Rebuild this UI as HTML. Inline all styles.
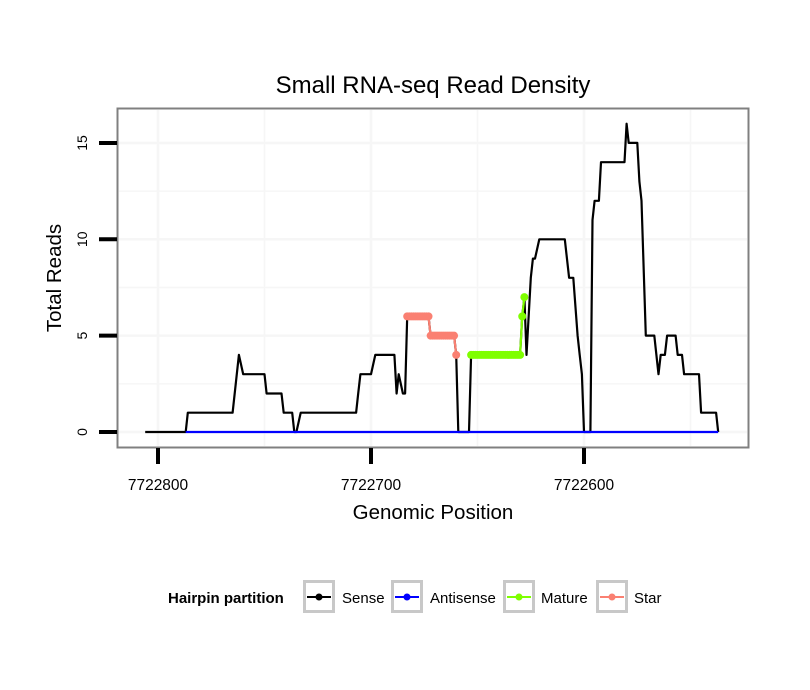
<!DOCTYPE html>
<html><head><meta charset="utf-8"><style>
body{margin:0;background:#fff;}
svg{display:block;font-family:"Liberation Sans",Arial,sans-serif;}
</style></head><body>
<svg id="chart" width="810" height="690" viewBox="0 0 810 690">
<text x="433" y="93" font-size="24" text-anchor="middle">Small RNA-seq Read Density</text>
<g id="grid"></g>
<g id="series"></g>
<rect x="117.5" y="108.5" width="631" height="339" fill="none" stroke="#808080" stroke-width="2"/>
<g id="axes"></g>
<text x="433" y="519" font-size="20.5" text-anchor="middle">Genomic Position</text>
<text transform="translate(61,278) rotate(-90)" font-size="20.5" text-anchor="middle">Total Reads</text>
<g>
<text x="168" y="603" font-size="15" font-weight="bold">Hairpin partition</text>
<g><rect x="304.5" y="581.5" width="29" height="30" fill="#fff" stroke="#c8c8c8" stroke-width="3"/><line x1="307" x2="331" y1="597" y2="597" stroke="#000" stroke-width="2"/><circle cx="319" cy="597" r="3.5" fill="#000"/><text x="342" y="603" font-size="15">Sense</text></g>
<g><rect x="392.5" y="581.5" width="29" height="30" fill="#fff" stroke="#c8c8c8" stroke-width="3"/><line x1="395" x2="419" y1="597" y2="597" stroke="#0000ff" stroke-width="2"/><circle cx="407" cy="597" r="3.5" fill="#0000ff"/><text x="430" y="603" font-size="15">Antisense</text></g>
<g><rect x="504.5" y="581.5" width="29" height="30" fill="#fff" stroke="#c8c8c8" stroke-width="3"/><line x1="507" x2="531" y1="597" y2="597" stroke="#7fff00" stroke-width="2"/><circle cx="519" cy="597" r="3.5" fill="#7fff00"/><text x="541" y="603" font-size="15">Mature</text></g>
<g><rect x="597.5" y="581.5" width="29" height="30" fill="#fff" stroke="#c8c8c8" stroke-width="3"/><line x1="600" x2="624" y1="597" y2="597" stroke="#fa8072" stroke-width="2"/><circle cx="612" cy="597" r="3.5" fill="#fa8072"/><text x="634" y="603" font-size="15">Star</text></g>
</g>
</svg>
<script>
const xTicks = [7722800, 7722700, 7722600];
const yTicks = [0, 5, 10, 15];
const sensePos = [7722806,7722787,7722786,7722765,7722762,7722760,7722750,7722749,7722742,7722741,7722737,7722736,7722735,7722733,7722707,7722706,7722705,7722700,7722698,7722689,7722688,7722687,7722685,7722684,7722683,7722673,7722672,7722661,7722660,7722659,7722654,7722653,7722630,7722629,7722628,7722627,7722625,7722624,7722623,7722621,7722609,7722607,7722605,7722603,7722602,7722601,7722600,7722597,7722596,7722595,7722593,7722592,7722581,7722580,7722579,7722575,7722574,7722573,7722571,7722567,7722565,7722564,7722562,7722561,7722557,7722556,7722554,7722553,7722546,7722545,7722538,7722537];
const senseVal = [0,0,1,1,4,3,3,2,2,1,1,0,0,1,1,2,3,3,4,4,2,3,2,2,6,6,5,5,4,0,0,4,4,6,7,4,8,9,9,10,10,8,8,5,4,3,0,0,11,12,12,14,14,16,15,15,13,12,5,5,3,4,4,5,5,4,4,3,3,1,1,0];
const antisensePos = [7722787, 7722537];
const antisenseVal = [0, 0];
const maturePos = [7722653,7722652,7722651,7722650,7722649,7722648,7722647,7722646,7722645,7722644,7722643,7722642,7722641,7722640,7722639,7722638,7722637,7722636,7722635,7722634,7722633,7722632,7722631,7722630,7722629,7722628];
const matureVal = [4,4,4,4,4,4,4,4,4,4,4,4,4,4,4,4,4,4,4,4,4,4,4,4,6,7];
const starPos = [7722683,7722682,7722681,7722680,7722679,7722678,7722677,7722676,7722675,7722674,7722673,7722672,7722671,7722670,7722669,7722668,7722667,7722666,7722665,7722664,7722663,7722662,7722661,7722660];
const starVal = [6,6,6,6,6,6,6,6,6,6,6,5,5,5,5,5,5,5,5,5,5,5,5,4];

const NS = "http://www.w3.org/2000/svg";
const xScale = p => 158 + (7722800 - p) * 2.13;
const yScale = v => 432 - v * 19.27;
function mk(tag, attrs, parent){ const e = document.createElementNS(NS, tag); for (const k in attrs) e.setAttribute(k, attrs[k]); parent.appendChild(e); return e; }
const grid = document.getElementById('grid'), series = document.getElementById('series'), axes = document.getElementById('axes');
for (let p = 7722850; p >= 7722500; p -= 50) {
  const x = xScale(p);
  if (x < 119 || x > 747) continue;
  const g = mk('line', {x1:x, x2:x, y1:110, y2:446, stroke:'#f6f6f6', 'stroke-width':(p % 100) ? 1.5 : 2.5}, grid);
  
  
}
for (let v = 0; v <= 17.5; v += 2.5) {
  const y = yScale(v);
  if (y < 110 || y > 446) continue;
  const g = mk('line', {x1:119, x2:747, y1:y, y2:y, stroke:'#f6f6f6', 'stroke-width':(v % 5) ? 1.5 : 2.5}, grid);
  
  
}
xTicks.forEach(t => {
  const x = xScale(t);
  const l = mk('line', {x1:x, x2:x, y1:448, y2:464, stroke:'#000', 'stroke-width':4}, axes);
  
  
  const tx = mk('text', {x:x, y:490, 'font-size':15.5, 'text-anchor':'middle'}, axes);
  tx.textContent = t;
  
  
});
yTicks.forEach(t => {
  const y = yScale(t);
  const l = mk('line', {x1:99, x2:117, y1:y, y2:y, stroke:'#000', 'stroke-width':4}, axes);
  
  
  const tx = mk('text', {transform:`translate(87,${y}) rotate(-90)`, 'font-size':14, 'text-anchor':'middle'}, axes);
  tx.textContent = t;
  
  
});
function line(pos, val, color, name){
  const d = pos.map((p,i)=>(i?'L':'M')+xScale(p).toFixed(1)+','+yScale(val[i]).toFixed(1)).join('');
  const e = mk('path', {d:d, fill:'none', stroke:color, 'stroke-width':2.2, 'stroke-linejoin':'round'}, series);
  
  
}
function pts(pos, val, color, name){
  pos.forEach((p,i)=>{
    const c = mk('circle', {cx:xScale(p), cy:yScale(val[i]), r:4, fill:color}, series);
    
    
  });
}
line(sensePos, senseVal, '#000', 'sense-line');
line(antisensePos, antisenseVal, '#0000ff', 'antisense-line');
line(maturePos, matureVal, '#7fff00', 'mature-line');
line(starPos, starVal, '#fa8072', 'star-line');
pts(maturePos, matureVal, '#7fff00', 'mature-point');
pts(starPos, starVal, '#fa8072', 'star-point');
</script>
</body></html>
